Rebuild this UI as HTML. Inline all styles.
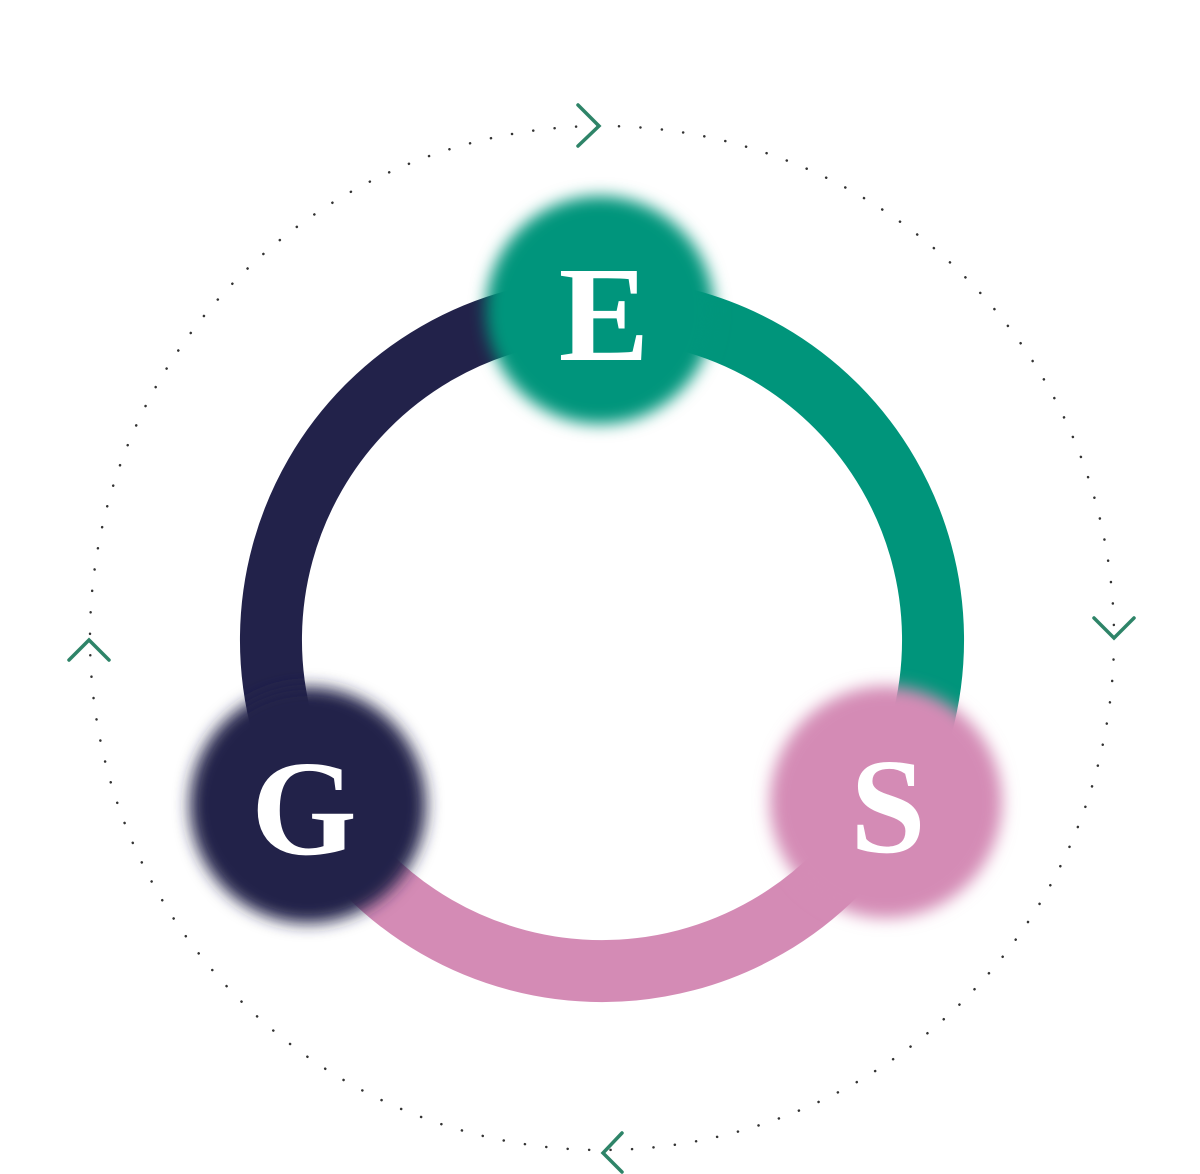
<!DOCTYPE html>
<html><head><style>
html,body{margin:0;padding:0;background:#fff;}
svg{display:block;}
</style></head><body>
<svg width="1200" height="1174" viewBox="0 0 1200 1174" xmlns="http://www.w3.org/2000/svg">
<defs>
<filter id="b" x="-30%" y="-30%" width="160%" height="160%"><feGaussianBlur stdDeviation="8"/></filter>
</defs>
<circle cx="602" cy="638" r="512" fill="none" stroke="#333" stroke-width="2.5" stroke-linecap="round" stroke-dasharray="0.1 21.4"/>
<g fill="none" stroke="#2e8468" stroke-width="3.5" stroke-linecap="round" stroke-linejoin="miter">
<polyline points="578,105 599,126 578,146"/>
<polyline points="1094,618 1114,638 1134,618"/>
<polyline points="622,1133 603,1153 622,1172"/>
<polyline points="69,660 89,640 109,660"/>
</g>
<g fill="none" stroke-width="62">
<path d="M315.3,805.5 A331,331 0 0 1 602,309" stroke="#22224a"/>
<path d="M602,309 A331,331 0 0 1 888.7,805.5" stroke="#00957b"/>
<path d="M888.7,805.5 A331,331 0 0 1 315.3,805.5" stroke="#d48bb5"/>
</g>
<circle cx="600" cy="310" r="114" fill="#00957b" filter="url(#b)"/>
<circle cx="308" cy="805" r="118" fill="#22224a" filter="url(#b)"/>
<circle cx="886" cy="802" r="116" fill="#d48bb5" filter="url(#b)"/>
<g font-family="'Liberation Serif',serif" font-weight="bold" fill="#fff" text-anchor="middle" font-size="136">
<text x="604" y="360">E</text>
<text x="304" y="854">G</text>
<text x="888" y="852">S</text>
</g>
</svg>
</body></html>
